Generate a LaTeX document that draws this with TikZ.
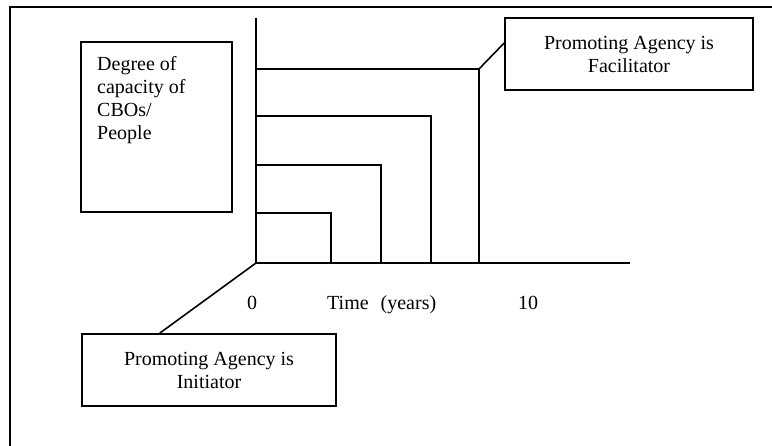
\documentclass[tikz,border=0pt]{standalone}
\usepackage{fontspec}
\setmainfont{Liberation Serif}
\usetikzlibrary{calc}
\tikzset{
  ln/.style={line width=1.6pt},
  txt/.style={font={\fontsize{20}{23}\selectfont}, inner sep=0pt},
  box/.style={draw, line width=1.6pt, txt, align=center}
}
\begin{document}
\begin{tikzpicture}[x=1pt,y=-1pt]
\useasboundingbox (0,0) rectangle (772,446);
% frame
\draw[ln] (10,446) -- (10,7) -- (772,7);
% axes
\coordinate (O) at (256,263);
\coordinate (ytop) at (256,18);
\coordinate (xend) at (630,263);
\draw[ln] (ytop) -- (O) -- (xend);
% steps
\coordinate (s1) at (331,213);
\coordinate (s2) at (381,165);
\coordinate (s3) at (431,116);
\coordinate (s4) at (479,69);
\foreach \s in {s1,s2,s3,s4}{
  \draw[ln] (O |- \s) -- (\s) -- (\s |- O);
}
% boxes
\node[draw, ln, minimum width=151pt, minimum height=170pt, inner sep=0pt] (deg) at (156.5,127) {};
\node[txt, anchor=base west, align=left] (degt) at (97,140) {Degree of\\capacity of\\CBOs/\\People};
\node[box, minimum width=248pt, minimum height=72pt] (fac) at (629,54) {Promoting Agency is\\Facilitator};
\node[box, minimum width=254pt, minimum height=72pt] (init) at (209,370) {Promoting Agency is\\Initiator};
% connectors
\draw[ln] (s4) -- ($(fac.north west)!0.35!(fac.south west)$);
\draw[ln] (O) -- ($(init.north west)!0.307!(init.north east)$);
% axis labels
\node[txt, anchor=base] (l0) at (252,310) {0};
\node[txt, anchor=base west] (lt) at (327,310) {Time\hspace{12pt}(years)};
\node[txt, anchor=base] (l10) at (528,310) {10};
\end{tikzpicture}
\end{document}
